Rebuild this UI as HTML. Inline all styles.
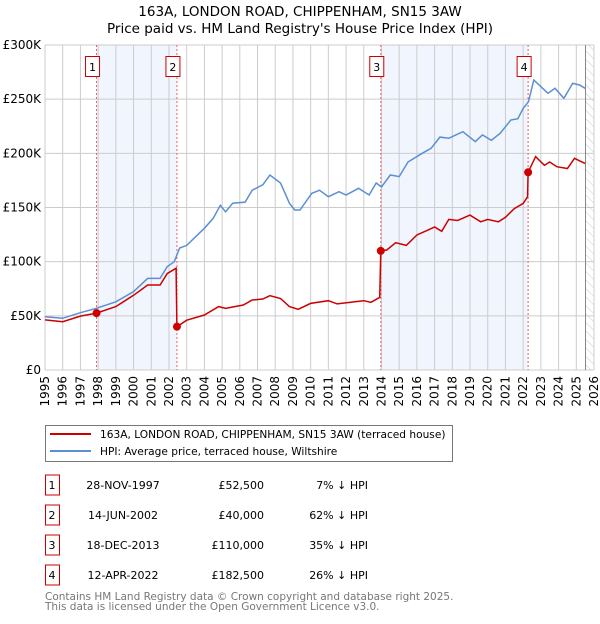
<!DOCTYPE html>
<html><head><meta charset="utf-8">
<style>
body{margin:0;background:#fff;width:600px;height:620px;overflow:hidden;font-family:"DejaVu Sans","Liberation Sans",sans-serif;}
svg text{font-family:"DejaVu Sans","Liberation Sans",sans-serif;}
</style></head><body>
<svg id="chart" width="600" height="620" xmlns="http://www.w3.org/2000/svg">
<defs><pattern id="hatch" width="6" height="6" patternUnits="userSpaceOnUse" patternTransform="rotate(-45)"><line x1="0" y1="0" x2="0" y2="6" stroke="#ccc" stroke-width="1"/></pattern></defs>
<text x="300" y="16" text-anchor="middle" font-size="13.5">163A, LONDON ROAD, CHIPPENHAM, SN15 3AW</text>
<text x="300" y="33" text-anchor="middle" font-size="13.5">Price paid vs. HM Land Registry's House Price Index (HPI)</text>
<g id="plot"></g>
<g>
<rect x="45.5" y="425.5" width="407" height="36" fill="#fff" stroke="#777"/>
<line x1="50" y1="434" x2="91" y2="434" stroke="#cc0000" stroke-width="2"/>
<text x="100" y="438" font-size="10.6">163A, LONDON ROAD, CHIPPENHAM, SN15 3AW (terraced house)</text>
<line x1="50" y1="451" x2="91" y2="451" stroke="#5b8fd4" stroke-width="2"/>
<text x="100" y="455" font-size="10.6">HPI: Average price, terraced house, Wiltshire</text>
</g>
<g id="table" font-size="11"></g>
<text x="45" y="600" font-size="10.5" fill="#777">Contains HM Land Registry data © Crown copyright and database right 2025.</text>
<text x="45" y="610" font-size="10.5" fill="#777">This data is licensed under the Open Government Licence v3.0.</text>
</svg>
<script>
const hpiYears=[1995,1996,1997,1997.9,1999,2000,2000.8,2001.5,2001.9,2002.3,2002.6,2003,2003.5,2004,2004.5,2004.9,2005.2,2005.6,2006.3,2006.7,2007.3,2007.7,2008.3,2008.8,2009.1,2009.4,2010.06,2010.5,2011,2011.6,2012,2012.7,2013.3,2013.7,2014,2014.5,2015,2015.5,2016.3,2016.8,2017.3,2017.8,2018.6,2019.3,2019.7,2020.2,2020.7,2021,2021.3,2021.7,2022,2022.3,2022.6,2023,2023.4,2023.8,2024.3,2024.8,2025.2,2025.5];
const hpiValues=[49.2,47.7,52.9,57,63,72.3,84.6,84.6,95.4,100,112.6,115,123,130.8,140,152,146,154,155,166,171,180,172.6,154,147.7,147.7,163,166,160,164.6,161.5,167.7,161.5,172.6,169,180,178.5,192,200,204.6,215,214,220,210.8,217,212,218.5,224.6,230.8,232,241.5,247.7,267.7,261.5,255.4,260,250.8,264.6,263,260];
const ppYears=[1995,1996,1997,1997.91,1999,2000,2000.8,2001.5,2001.9,2002.4,2002.45,2003,2004,2004.8,2005.2,2006.2,2006.7,2007.3,2007.7,2008.3,2008.8,2009.3,2010,2011,2011.5,2012.5,2013,2013.4,2013.9,2013.96,2014.3,2014.8,2015.4,2016,2016.7,2017,2017.4,2017.8,2018.3,2019,2019.6,2020,2020.6,2021,2021.5,2022,2022.25,2022.28,2022.7,2023.2,2023.5,2023.9,2024.5,2024.9,2025.2,2025.5];
const ppValues=[46.2,44.6,49.8,52.5,58.5,69,78.5,78.5,89,94,40,46,50.8,58.5,57,60,64.6,65.5,68.6,66,58.5,56,61.5,64,61,63,64,62.5,67,110,110.8,117.5,115,124.6,129.8,132,128,139,138,143,136.8,139,136.8,141,149,153.8,160,182.5,197,189,192,187.7,186,195.4,193,190.7];
const saleLabels=["1","2","3","4"];
const saleYears=[1997.91,2002.45,2013.96,2022.28];
const salePrices=[52.5,40,110,182.5];
const saleDates=["28-NOV-1997","14-JUN-2002","18-DEC-2013","12-APR-2022"];
const salePriceText=["£52,500","£40,000","£110,000","£182,500"];
const saleHpiText=["7% ↓ HPI","62% ↓ HPI","35% ↓ HPI","26% ↓ HPI"];
const yTicks=[0,50,100,150,200,250,300];
const yTickLabels=["£0","£50K","£100K","£150K","£200K","£250K","£300K"];
const xStart=1995,xEnd=2026,dataEnd=2025.52;

const L=45,R=594,T=45,B=370;
const sx=v=>L+(v-xStart)*(R-L)/(xEnd-xStart);
const sy=v=>B-v*(B-T)/300;
const NS="http://www.w3.org/2000/svg";
const plot=document.getElementById('plot');
function mk(tag,attrs,parent){const e=document.createElementNS(NS,tag);for(const k in attrs)e.setAttribute(k,attrs[k]);(parent||plot).appendChild(e);return e;}

for(let i=0;i<saleYears.length;i+=2){
  const r=mk('rect',{x:sx(saleYears[i]),y:T,width:sx(saleYears[i+1])-sx(saleYears[i]),height:B-T,fill:'#eef3fd',opacity:0.8});
  
  
}
const h=mk('rect',{x:sx(dataEnd),y:T,width:R-sx(dataEnd),height:B-T,fill:'url(#hatch)'});


for(let y=xStart;y<=xEnd;y++){
  const g=mk('line',{x1:sx(y),x2:sx(y),y1:T,y2:B,stroke:'#ccc','stroke-width':1});
  
  
  const t=mk('text',{x:0,y:0,'font-size':12,'text-anchor':'end',transform:`translate(${sx(y)+4},${B+6}) rotate(-90)`});
  t.textContent=y;
  
  
}
yTicks.forEach((v,i)=>{
  const g=mk('line',{x1:L,x2:R,y1:sy(v),y2:sy(v),stroke:'#ccc','stroke-width':1});
  
  
  const t=mk('text',{x:L-4,y:sy(v)+4,'font-size':12,'text-anchor':'end'});
  t.textContent=yTickLabels[i];
  
  
});
const el=mk('line',{x1:sx(dataEnd),x2:sx(dataEnd),y1:T,y2:B,stroke:'#888','stroke-width':1});


saleYears.forEach((y,i)=>{
  const l=mk('line',{x1:sx(y),x2:sx(y),y1:T,y2:B,stroke:'#f06060','stroke-width':1,'stroke-dasharray':'2,2'});
  
  
  const bx=mk('rect',{x:sx(y)-11,y:56.5,width:14,height:20,fill:'#fff',stroke:'#cc0000'});
  
  
  const t=mk('text',{x:sx(y)-4,y:71,'font-size':11,'text-anchor':'middle'});
  t.textContent=saleLabels[i];
  
  
});
function path(xs,vs){return xs.map((x,i)=>(i?'L':'M')+sx(x).toFixed(1)+','+sy(vs[i]).toFixed(1)).join('');}
const hp=mk('path',{d:path(hpiYears,hpiValues),fill:'none',stroke:'#5b8fd4','stroke-width':1.5});


const pp=mk('path',{d:path(ppYears,ppValues),fill:'none',stroke:'#cc0000','stroke-width':1.5});


saleYears.forEach((y,i)=>{
  const c=mk('circle',{cx:sx(y),cy:sy(salePrices[i]),r:4,fill:'#cc0000'});
  
  
});
const tb=document.getElementById('table');
saleLabels.forEach((lab,i)=>{
  const cy=485+i*30;
  const b=mk('rect',{x:45.5,y:cy-10,width:14,height:20,fill:'#fff',stroke:'#cc0000'},tb);
  
  
  const cells=[[52,lab,'middle'],[123,saleDates[i],'middle'],[264,salePriceText[i],'end'],[368,saleHpiText[i],'end']];
  cells.forEach(([x,txt,a],j)=>{
    const t=mk('text',{x:x,y:cy+4,'text-anchor':a},tb);
    t.textContent=txt;
    
    
  });
});
</script>
</body></html>
